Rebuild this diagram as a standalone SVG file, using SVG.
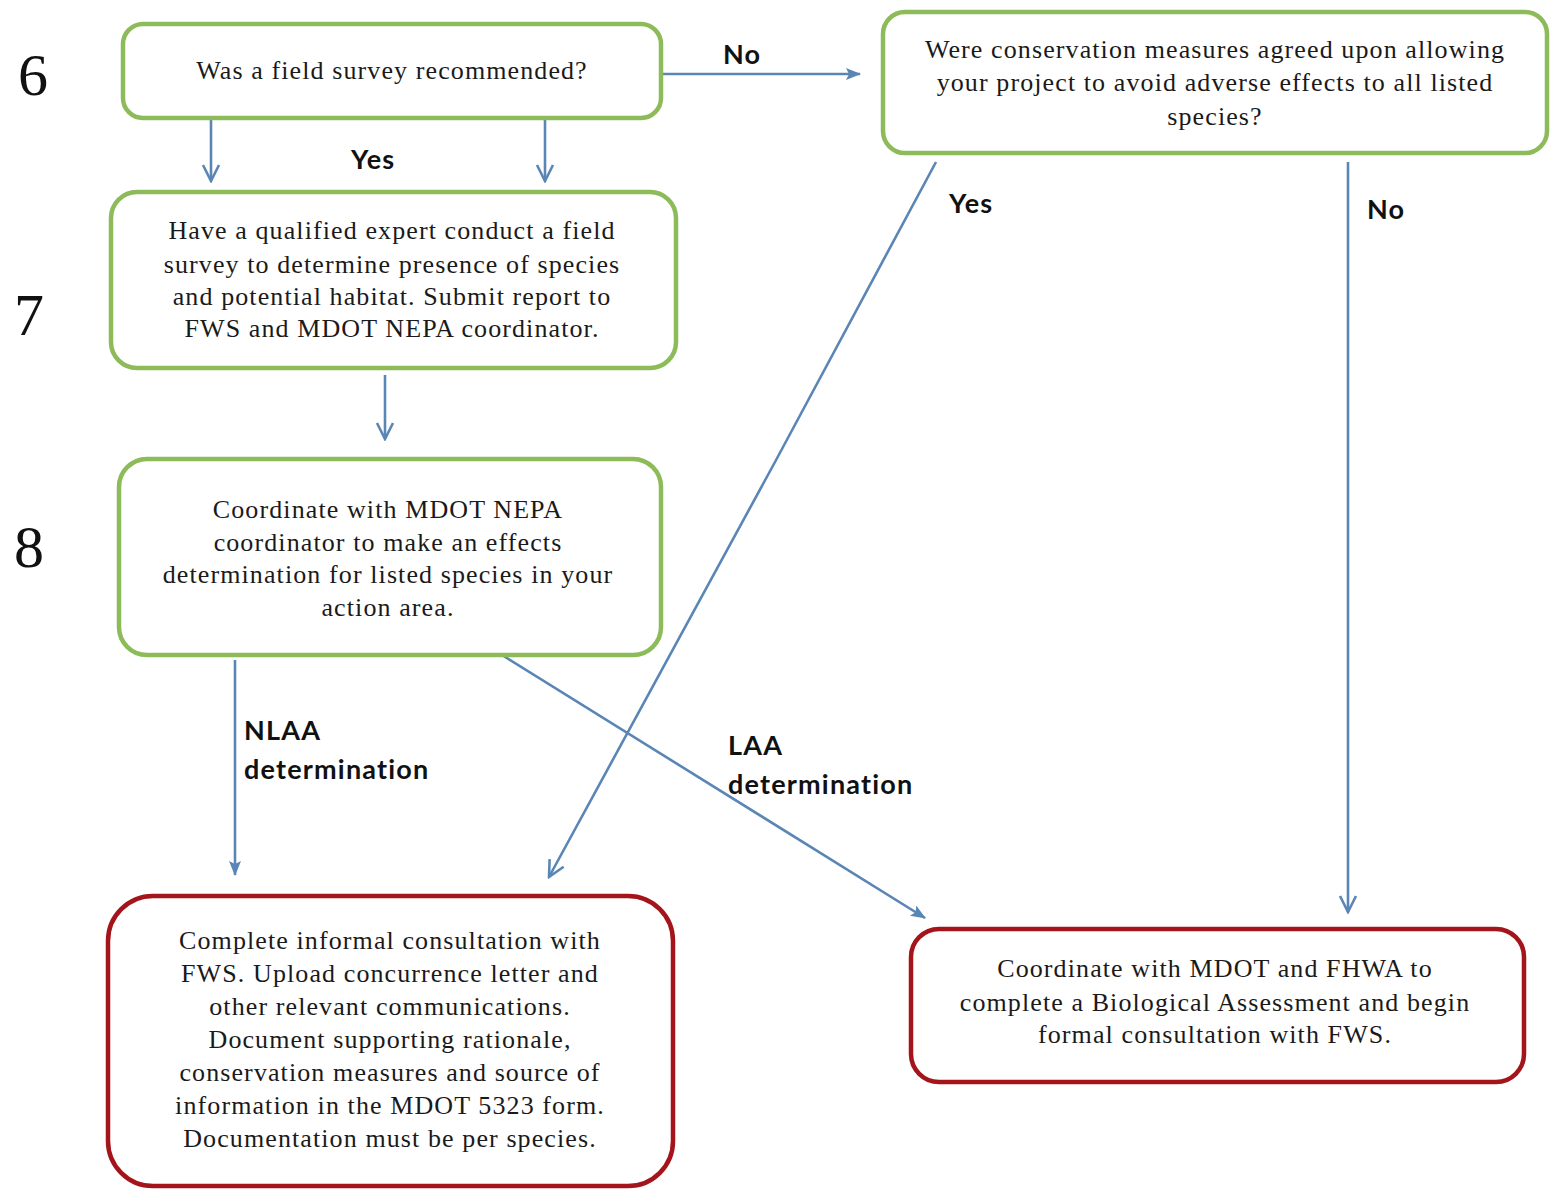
<svg xmlns="http://www.w3.org/2000/svg" width="1554" height="1189" viewBox="0 0 1554 1189">
<defs>
<style>
.g{fill:#fff;stroke:#8dbb5a;stroke-width:4.5}
.r{fill:#fff;stroke:#a3151b;stroke-width:4.5}
.t{font-family:"Liberation Serif","Times New Roman",serif;font-size:26px;letter-spacing:1.1px;fill:#1a1a1a;text-anchor:middle}
.n{font-family:"Liberation Serif",serif;font-size:60px;fill:#111}
.l{font-family:Lato,"Liberation Sans",sans-serif;font-weight:bold;font-size:27px;letter-spacing:1.2px;fill:#111}
.c{stroke:#5a86b6;stroke-width:2.6;fill:none}
</style>
<marker id="open" viewBox="0 0 20 20" refX="18" refY="10" markerWidth="20" markerHeight="20" markerUnits="userSpaceOnUse" orient="auto">
<path d="M2,2 L18,10 L2,18" fill="none" stroke="#5a86b6" stroke-width="2.6"/>
</marker>
<marker id="fill" viewBox="0 0 16 16" refX="14" refY="8" markerWidth="16" markerHeight="16" markerUnits="userSpaceOnUse" orient="auto">
<path d="M0,2 L15,8 L0,14 L3,8 Z" fill="#5a86b6"/>
</marker>
</defs>
<rect width="1554" height="1189" fill="#fff"/>
<text class="n" x="18" y="95">6</text>
<text class="n" x="14" y="335">7</text>
<text class="n" x="14" y="567">8</text>
<g id="connectors">
<line class="c" x1="211" y1="118" x2="211" y2="181" marker-end="url(#open)"/>
<line class="c" x1="545" y1="118" x2="545" y2="181" marker-end="url(#open)"/>
<line class="c" x1="661" y1="74" x2="860" y2="74" marker-end="url(#fill)"/>
<line class="c" x1="385" y1="375" x2="385" y2="439" marker-end="url(#open)"/>
<polyline class="c" points="936,162 775,462 549,877" marker-end="url(#open)"/>
<line class="c" x1="1348" y1="162" x2="1348" y2="912" marker-end="url(#open)"/>
<line class="c" x1="235" y1="660" x2="235" y2="875" marker-end="url(#fill)"/>
<line class="c" x1="502" y1="655" x2="925" y2="918" marker-end="url(#fill)"/>
<text class="l" x="351" y="169">Yes</text>
<text class="l" x="723" y="64">No</text>
<text class="l" x="949" y="213">Yes</text>
<text class="l" x="1367" y="219">No</text>
<text class="l" x="244" y="740">NLAA</text>
<text class="l" x="244" y="779">determination</text>
<text class="l" x="728" y="755">LAA</text>
<text class="l" x="728" y="794">determination</text>
</g>
<g id="n6">
<rect class="g" x="123" y="24" width="538" height="94" rx="20"/>
<text class="t" x="392" y="79">Was a field survey recommended?</text>
</g>
<g id="nConservation">
<rect class="g" x="883" y="12" width="664" height="141" rx="22"/>
<text class="t" x="1215" y="58">Were conservation measures agreed upon allowing</text>
<text class="t" x="1215" y="91">your project to avoid adverse effects to all listed</text>
<text class="t" x="1215" y="125">species?</text>
</g>
<g id="n7">
<rect class="g" x="111" y="192" width="565" height="176" rx="26"/>
<text class="t" x="392" y="239">Have a qualified expert conduct a field</text>
<text class="t" x="392" y="273">survey to determine presence of species</text>
<text class="t" x="392" y="305">and potential habitat. Submit report to</text>
<text class="t" x="392" y="337">FWS and MDOT NEPA coordinator.</text>
</g>
<g id="n8">
<rect class="g" x="119" y="459" width="542" height="196" rx="28"/>
<text class="t" x="388" y="518">Coordinate with MDOT NEPA</text>
<text class="t" x="388" y="551">coordinator to make an effects</text>
<text class="t" x="388" y="583">determination for listed species in your</text>
<text class="t" x="388" y="616">action area.</text>
</g>
<g id="nInformal">
<rect class="r" x="108" y="896" width="565" height="290" rx="45"/>
<text class="t" x="390" y="949">Complete informal consultation with</text>
<text class="t" x="390" y="982">FWS. Upload concurrence letter and</text>
<text class="t" x="390" y="1015">other relevant communications.</text>
<text class="t" x="390" y="1048">Document supporting rationale,</text>
<text class="t" x="390" y="1081">conservation measures and source of</text>
<text class="t" x="390" y="1114">information in the MDOT 5323 form.</text>
<text class="t" x="390" y="1147">Documentation must be per species.</text>
</g>
<g id="nFormal">
<rect class="r" x="911" y="929" width="613" height="153" rx="28"/>
<text class="t" x="1215" y="977">Coordinate with MDOT and FHWA to</text>
<text class="t" x="1215" y="1011">complete a Biological Assessment and begin</text>
<text class="t" x="1215" y="1043">formal consultation with FWS.</text>
</g>
</svg>
